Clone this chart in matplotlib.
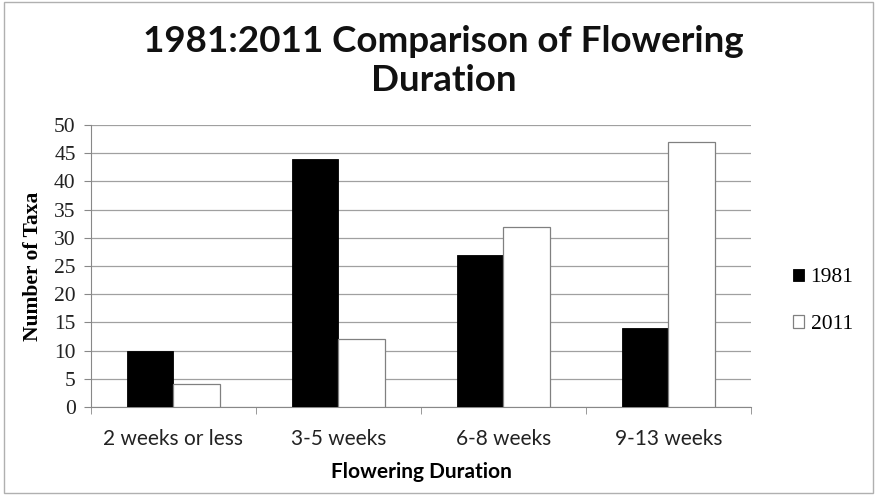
import matplotlib
matplotlib.use("Agg")
import matplotlib.pyplot as plt
import numpy as np
from matplotlib.patches import Rectangle

categories = ["2 weeks or less", "3-5 weeks", "6-8 weeks", "9-13 weeks"]
taxa_1981 = [10, 44, 27, 14]
taxa_2011 = [4, 12, 32, 47]
series_labels = ["1981", "2011"]
y_ticks = list(range(0, 55, 5))

sans = ["Lato", "DejaVu Sans"]
serif = ["Liberation Serif", "DejaVu Serif"]

fig = plt.figure(figsize=(8.78, 4.96), dpi=100)
ax = fig.add_axes([0.1036, 0.1794, 0.7517, 0.5685])

# outer chart frame
fig.patches.append(Rectangle((0.004, 0.006), 0.99, 0.99, transform=fig.transFigure,
                             fill=False, edgecolor="#b0b0b0", linewidth=1.0))

x = np.arange(len(categories))
w = 0.28
ax.bar(x - w / 2, taxa_1981, w, color="black", edgecolor="black", linewidth=0.6,
       label=series_labels[0], zorder=3)
ax.bar(x + w / 2, taxa_2011, w, color="white", edgecolor="#808080", linewidth=0.9,
       label=series_labels[1], zorder=3)

ax.set_xlim(-0.5, len(categories) - 0.5)
ax.set_ylim(0, 50)
ax.set_yticks(y_ticks)
ax.yaxis.grid(True, color="#a0a0a0", linewidth=0.9, zorder=0)
ax.set_axisbelow(True)

for side in ["top", "right"]:
    ax.spines[side].set_visible(False)
ax.spines["left"].set_color("#888888")
ax.spines["bottom"].set_color("#888888")

ax.set_xticks(x)
ax.set_xticklabels(categories, fontfamily=sans, fontsize=15)
ax.set_xticks(np.arange(-0.5, len(categories)), minor=True)
ax.tick_params(axis="x", which="major", length=0, pad=16)
ax.tick_params(axis="x", which="minor", length=5, color="#888888")
ax.tick_params(axis="y", length=5, color="#888888", pad=6)
for lbl in ax.get_yticklabels():
    lbl.set_fontfamily(serif)
    lbl.set_fontsize(15.5)
    lbl.set_color("#222222")
for lbl in ax.get_xticklabels():
    lbl.set_color("#222222")

ax.set_ylabel("Number of Taxa", fontfamily=serif, fontweight="bold", fontsize=15.5,
              labelpad=8)
ax.set_xlabel("Flowering Duration", fontfamily=sans, fontweight="bold", fontsize=15,
              labelpad=9)

fig.text(0.505, 0.877, "1981:2011 Comparison of Flowering\nDuration", ha="center",
         va="center", fontfamily=sans, fontweight="bold", fontsize=26.5,
         linespacing=1.25, color="#111111")

leg = ax.legend(loc="center left", bbox_to_anchor=(1.035, 0.375), frameon=False,
                handlelength=0.5, handleheight=0.5, handletextpad=0.3,
                labelspacing=1.3, prop={"family": serif, "size": 15.5})

fig.savefig("out.png", dpi=100)
